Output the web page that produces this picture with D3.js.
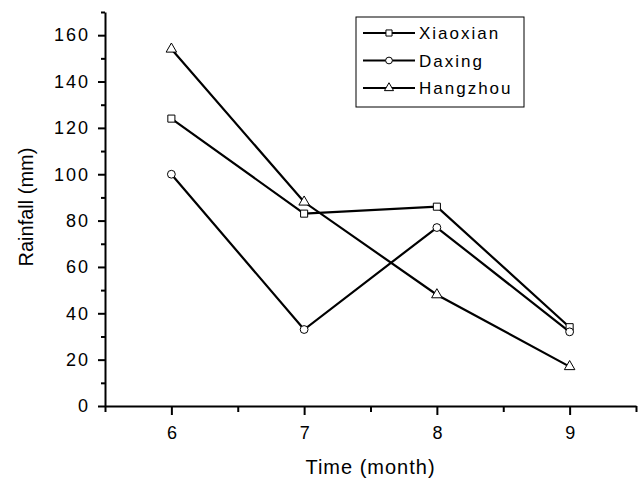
<!DOCTYPE html>
<html>
<head>
<meta charset="utf-8">
<script src="https://cdn.jsdelivr.net/npm/d3@7"></script>
<style>
  body { margin: 0; background: #fff; }
  text { font-family: "Liberation Sans", Arial, sans-serif; fill: #000; }
</style>
</head>
<body>
<svg id="chart" width="640" height="481"></svg>
<script>
const months = [6, 7, 8, 9];
const xiaoxian = [124, 83, 86, 34];
const daxing = [100, 33, 77, 32];
const hangzhou = [154, 88, 48, 17];
const seriesNames = ["Xiaoxian", "Daxing", "Hangzhou"];
const seriesSymbols = [d3.symbolSquare, d3.symbolCircle, d3.symbolTriangle];
const yTicks = [0, 20, 40, 60, 80, 100, 120, 140, 160];

const svg = d3.select("#chart");
const margin = { left: 105, right: 4, top: 12, bottom: 75 };
const width = 640, height = 481;

const x = d3.scaleLinear().domain([5.5, 9.5]).range([margin.left, width - margin.right]);
const y = d3.scaleLinear().domain([0, 170]).range([height - margin.bottom, margin.top]);

const series = [xiaoxian, daxing, hangzhou];

// minor ticks first, then major axis on top
svg.append("g")
  .attr("transform", `translate(0,${y(0)})`)
  .call(d3.axisBottom(x).tickValues([5.5, 6.5, 7.5, 8.5, 9.5]).tickSize(6).tickFormat(""))
  .call(g => g.select(".domain").remove())
  .selectAll("line").attr("stroke-width", 2);

svg.append("g")
  .attr("transform", `translate(${x(5.5)},0)`)
  .call(d3.axisLeft(y).tickValues(d3.range(10, 171, 20)).tickSize(4).tickFormat(""))
  .call(g => g.select(".domain").remove())
  .selectAll("line").attr("stroke-width", 2);

const xAxis = svg.append("g")
  .attr("transform", `translate(0,${y(0)})`)
  .call(d3.axisBottom(x).tickValues(months).tickSize(9).tickSizeOuter(0).tickPadding(11).tickFormat(d3.format("d")));
xAxis.select(".domain").attr("stroke-width", 2);
xAxis.selectAll("line").attr("stroke-width", 2);
xAxis.selectAll("text").attr("font-size", 18).attr("font-family", "Liberation Sans");

const yAxis = svg.append("g")
  .attr("transform", `translate(${x(5.5)},0)`)
  .call(d3.axisLeft(y).tickValues(yTicks).tickSize(7).tickSizeOuter(0).tickPadding(8));
yAxis.select(".domain").attr("stroke-width", 2);
yAxis.selectAll("line").attr("stroke-width", 2);
yAxis.selectAll("text")
  .attr("font-size", 18)
  .attr("font-family", "Liberation Sans")
  .attr("letter-spacing", 2);

svg.append("text")
  .attr("x", (x(5.5) + x(9.5)) / 2)
  .attr("y", 474)
  .attr("text-anchor", "middle")
  .attr("font-size", 20)
  .attr("letter-spacing", 1)
  .text("Time (month)");

svg.append("text")
  .attr("transform", `translate(33,207) rotate(-90)`)
  .attr("text-anchor", "middle")
  .attr("font-size", 20)
  .text("Rainfall (mm)");

const line = d3.line().x((d, i) => x(months[i])).y(d => y(d));
const symbolSizes = [50, 48, 48];

series.forEach((vals, s) => {
  svg.append("path")
    .datum(vals)
    .attr("d", line)
    .attr("fill", "none")
    .attr("stroke", "#000")
    .attr("stroke-width", 2.2);
});

series.forEach((vals, s) => {
  svg.selectAll(null)
    .data(vals)
    .enter()
    .append("path")
    .attr("transform", (d, i) => `translate(${x(months[i])},${y(d)})`)
    .attr("d", d3.symbol().type(seriesSymbols[s]).size(symbolSizes[s]))
    .attr("fill", "#fff")
    .attr("stroke", "#000")
    .attr("stroke-width", 1);
});

// legend
const legend = svg.append("g").attr("transform", "translate(356,17)");
legend.append("rect")
  .attr("width", 168).attr("height", 90)
  .attr("fill", "#fff").attr("stroke", "#000").attr("stroke-width", 1);

seriesNames.forEach((name, s) => {
  const row = legend.append("g").attr("transform", `translate(0,${16 + s * 27.5})`);
  row.append("line")
    .attr("x1", 7).attr("x2", 59)
    .attr("stroke", "#000").attr("stroke-width", 2);
  row.append("path")
    .attr("transform", "translate(33,0)")
    .attr("d", d3.symbol().type(seriesSymbols[s]).size(symbolSizes[s] * 0.75))
    .attr("fill", "#fff").attr("stroke", "#000").attr("stroke-width", 1);
  row.append("text")
    .attr("x", 63).attr("y", 6)
    .attr("font-size", 17)
    .attr("letter-spacing", 2)
    .text(name);
});
</script>
</body>
</html>
